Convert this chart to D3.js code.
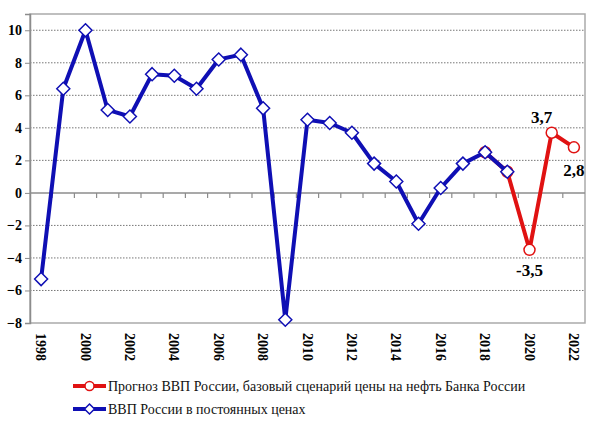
<!DOCTYPE html>
<html>
<head>
<meta charset="utf-8">
<script src="https://cdn.jsdelivr.net/npm/d3@7"></script>
<style>
  body { margin: 0; background: #fff; }
  svg { display: block; }
  svg text { font-family: "Liberation Serif", "Times New Roman", "DejaVu Serif", serif; }
</style>
</head>
<body>
<svg id="chart"></svg>
<script>
// years on the category axis
const years = d3.range(1998, 2023);
// actual GDP growth, %
const actualYears = d3.range(1998, 2020);
const actualValues = [-5.3, 6.4, 10.0, 5.1, 4.7, 7.3, 7.2, 6.4, 8.2, 8.5, 5.2, -7.8,
  4.5, 4.3, 3.7, 1.8, 0.7, -1.9, 0.3, 1.8, 2.5, 1.3];
// forecast, base scenario
const forecastYears = [2018, 2019, 2020, 2021, 2022];
const forecastValues = [2.5, 1.3, -3.5, 3.7, 2.8];
const labelYears = [2020, 2021, 2022];
const labelTexts = ["-3,5", "3,7", "2,8"];
const yTicks = [-8, -6, -4, -2, 0, 2, 4, 6, 8, 10];
const seriesNames = [
  "Прогноз ВВП России, базовый сценарий цены на нефть Банка России",
  "ВВП России в постоянных ценах"
];

const W = 600, H = 435;
const margin = { top: 14, right: 15, bottom: 112, left: 30 };
const width = W - margin.left - margin.right,
  height = H - margin.top - margin.bottom;

const blue = "#0f0fb4", red = "#e01212", axisGray = "#8c8c8c";

const svg = d3.select("#chart").attr("width", W).attr("height", H);
const g = svg.append("g").attr("transform", `translate(${margin.left},${margin.top})`);

const x = d3.scaleBand().domain(years).range([0, width]);
const y = d3.scaleLinear().domain([-8, 11]).range([height, 0]);
const cx = d => x(d) + x.bandwidth() / 2;

// dotted grid
g.append("g")
  .selectAll("line")
  .data(yTicks.filter(d => d !== 0 && d !== -8))
  .join("line")
  .attr("x1", 0).attr("x2", width)
  .attr("y1", d => y(d)).attr("y2", d => y(d))
  .attr("stroke", "#777")
  .attr("stroke-width", 1)
  .attr("stroke-dasharray", "1.5,1.5");

// frame
g.append("rect")
  .attr("x", 0).attr("y", 0)
  .attr("width", width).attr("height", height)
  .attr("fill", "none")
  .attr("stroke", "#aaa")
  .attr("stroke-width", 1.5);

// y axis
const yAxis = g.append("g")
  .call(d3.axisLeft(y).tickValues(yTicks).tickSize(5).tickPadding(3).tickFormat(d3.format("d")));
yAxis.attr("font-family", null);
yAxis.select(".domain").attr("stroke", axisGray).attr("stroke-width", 1.5);
yAxis.selectAll(".tick line").attr("stroke", axisGray);
yAxis.selectAll("text")
  .style("font-weight", "bold")
  .style("font-size", "14px")
  .attr("fill", "#000");

// zero line with category ticks
g.append("line")
  .attr("x1", 0).attr("x2", width)
  .attr("y1", y(0)).attr("y2", y(0))
  .attr("stroke", axisGray).attr("stroke-width", 1.5);
g.append("g")
  .selectAll("line")
  .data(years.slice(1))
  .join("line")
  .attr("x1", d => x(d)).attr("x2", d => x(d))
  .attr("y1", y(0)).attr("y2", y(0) + 5)
  .attr("stroke", axisGray).attr("stroke-width", 1.2);

// year labels, rotated
g.append("g")
  .selectAll("text")
  .data(years.filter(d => d % 2 === 0))
  .join("text")
  .attr("transform", d => `translate(${cx(d)},${height + 10}) rotate(90)`)
  .attr("dy", "0.35em")
  .style("font-weight", "bold")
  .style("font-size", "14px")
  .text(d => d);

const line = d3.line().x(d => cx(d[0])).y(d => y(d[1]));
const forecast = forecastYears.map((d, i) => [d, forecastValues[i]]);
const actual = actualYears.map((d, i) => [d, actualValues[i]]);

// forecast line
g.append("path")
  .datum(forecast)
  .attr("d", line)
  .attr("fill", "none")
  .attr("stroke", red)
  .attr("stroke-width", 4)
  .attr("stroke-linejoin", "round");
g.append("g")
  .selectAll("circle")
  .data(forecast)
  .join("circle")
  .attr("cx", d => cx(d[0]))
  .attr("cy", d => y(d[1]))
  .attr("r", 5.5)
  .attr("fill", "#fff")
  .attr("stroke", red)
  .attr("stroke-width", 1.5);

// actual line
g.append("path")
  .datum(actual)
  .attr("d", line)
  .attr("fill", "none")
  .attr("stroke", blue)
  .attr("stroke-width", 4)
  .attr("stroke-linejoin", "round");
const diamond = "M0,-6.5L6.5,0L0,6.5L-6.5,0Z";
g.append("g")
  .selectAll("path")
  .data(actual)
  .join("path")
  .attr("transform", d => `translate(${cx(d[0])},${y(d[1])})`)
  .attr("d", diamond)
  .attr("fill", "#fff")
  .attr("stroke", blue)
  .attr("stroke-width", 1.5);

// value labels
const labelOffsets = { 2020: [0, 26], 2021: [-10, -10], 2022: [0, 29] };
g.append("g")
  .selectAll("text")
  .data(labelYears)
  .join("text")
  .attr("x", d => cx(d) + labelOffsets[d][0])
  .attr("y", d => y(forecastValues[forecastYears.indexOf(d)]) + labelOffsets[d][1])
  .attr("text-anchor", "middle")
  .style("font-weight", "bold")
  .style("font-size", "17px")
  .text((d, i) => labelTexts[i]);

// legend
const legend = svg.append("g").attr("transform", "translate(73,386)");
const legendItems = [
  { name: seriesNames[0], color: red, shape: "circle" },
  { name: seriesNames[1], color: blue, shape: "diamond" }
];
legendItems.forEach((item, i) => {
  const row = legend.append("g").attr("transform", `translate(0,${i * 23})`);
  row.append("line")
    .attr("x1", 0).attr("x2", 33)
    .attr("stroke", item.color)
    .attr("stroke-width", 4);
  if (item.shape === "circle") {
    row.append("circle").attr("cx", 16.5).attr("r", 4.5)
      .attr("fill", "#fff").attr("stroke", item.color).attr("stroke-width", 1.5);
  } else {
    row.append("path").attr("transform", "translate(16.5,0)")
      .attr("d", "M0,-5L5,0L0,5L-5,0Z")
      .attr("fill", "#fff").attr("stroke", item.color).attr("stroke-width", 1.5);
  }
  row.append("text")
    .attr("x", 35)
    .attr("dy", "0.35em")
    .style("font-size", "14px")
    .attr("fill", "#111")
    .text(item.name);
});
</script>
</body>
</html>
